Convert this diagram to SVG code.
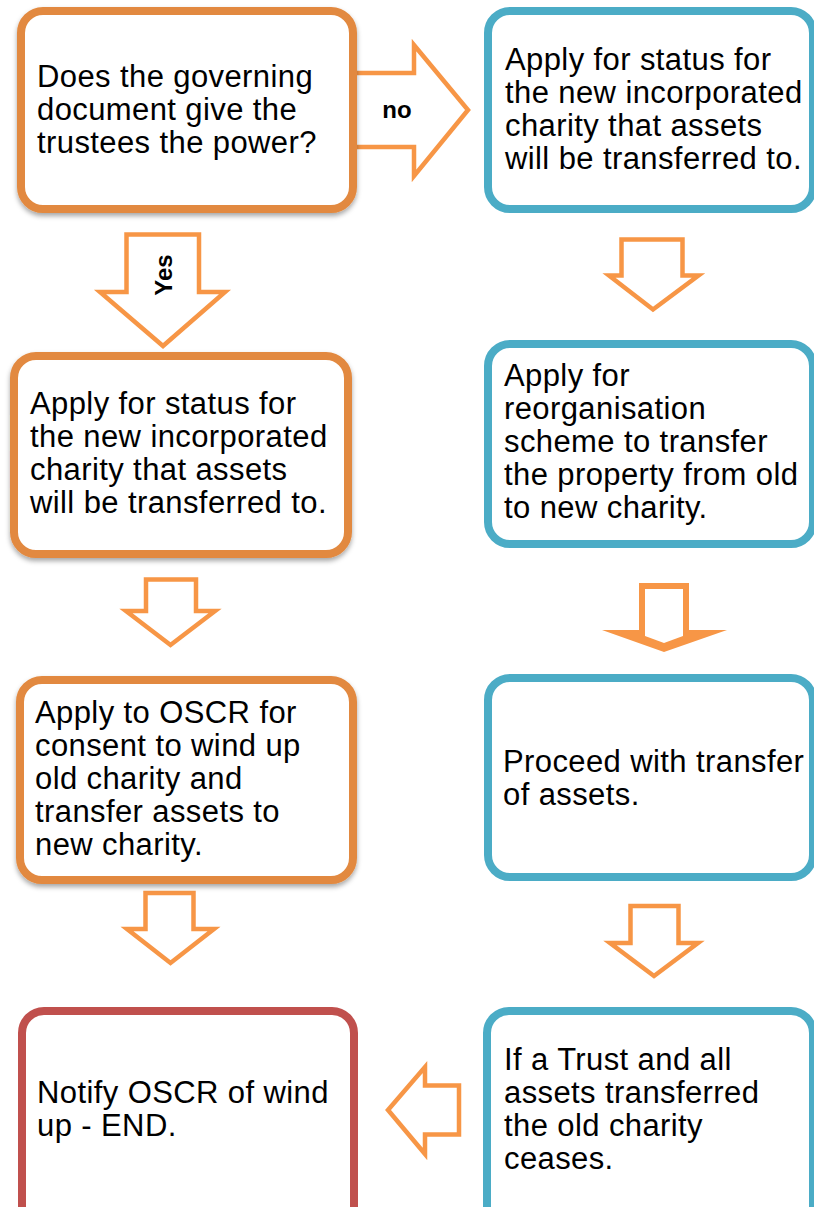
<svg xmlns="http://www.w3.org/2000/svg" width="814" height="1207" viewBox="0 0 814 1207">
<defs>
<filter id="sh" x="-10%" y="-10%" width="120%" height="125%">
<feDropShadow dx="0" dy="3" stdDeviation="2.5" flood-color="#000" flood-opacity="0.35"/>
</filter>
</defs>
<style>
.box{fill:#fff;stroke-width:8}
.or{stroke:#E2893F;filter:url(#sh)}
.bl{stroke:#4BACC6}
.rd{stroke:#C0504D}
.arr{fill:#fff;stroke:#F79646;stroke-width:4.5;stroke-linejoin:miter}
text{font-family:"Liberation Sans",Arial,sans-serif;font-size:31px;letter-spacing:0.4px;fill:#000}
.lbl{font-weight:bold;font-size:24px;letter-spacing:0;text-anchor:middle}
</style>
<rect width="814" height="1207" fill="#fff"/>
<g id="connectors">
<polygon class="arr" points="353,73 414,73 414,45 468,110 414,176 414,147 353,147"/>
<polygon class="arr" points="126.5,234.5 199,234.5 199,292 225,292 163,346 100,292 126.5,292"/>
<polygon class="arr" points="146,579.5 196,579.5 196,611 215,611 170.5,645 126,611 146,611"/>
<polygon class="arr" points="145.5,893 193.5,893 193.5,929 214,929 170.5,963 127,929 145.5,929"/>
<polygon class="arr" points="621.5,239.5 682.5,239.5 682.5,275.5 698.5,275.5 653,309.5 609,275.5 621.5,275.5"/>
<polygon points="639,583 689,583 689,630 727,630 664,652 602,630 639,630" fill="#F79646"/>
<polygon points="645,589 683,589 683,636 664,643 645,636" fill="#fff"/>
<polygon class="arr" points="630.5,906 678.5,906 678.5,943 698,943 654,976 610,943 630.5,943"/>
<polygon class="arr" points="459,1085.5 425,1085.5 425,1067 388,1110 425,1154 425,1134.5 459,1134.5"/>
<text class="lbl" x="397" y="118">no</text>
<text class="lbl" transform="translate(171.5,275) rotate(-90)">Yes</text>
</g>
<g id="n1">
<rect class="box or" x="21" y="11" width="332" height="198" rx="22"/>
<text x="37" y="87">Does the governing</text>
<text x="37" y="120">document give the</text>
<text x="37" y="153">trustees the power?</text>
</g>
<g id="n2">
<rect class="box bl" x="488" y="11" width="325" height="198" rx="22"/>
<text x="505" y="70">Apply for status for</text>
<text x="505" y="103">the new incorporated</text>
<text x="505" y="136">charity that assets</text>
<text x="505" y="169">will be transferred to.</text>
</g>
<g id="n3">
<rect class="box or" x="14" y="356" width="334" height="198" rx="22"/>
<text x="30" y="414">Apply for status for</text>
<text x="30" y="447">the new incorporated</text>
<text x="30" y="480">charity that assets</text>
<text x="30" y="513">will be transferred to.</text>
</g>
<g id="n4">
<rect class="box bl" x="488" y="344" width="325" height="200" rx="22"/>
<text x="504" y="386">Apply for</text>
<text x="504" y="419">reorganisation</text>
<text x="504" y="452">scheme to transfer</text>
<text x="504" y="485">the property from old</text>
<text x="504" y="518">to new charity.</text>
</g>
<g id="n5">
<rect class="box or" x="20" y="680" width="333" height="200" rx="22"/>
<text x="35" y="723">Apply to OSCR for</text>
<text x="35" y="756">consent to wind up</text>
<text x="35" y="789">old charity and</text>
<text x="35" y="822">transfer assets to</text>
<text x="35" y="855">new charity.</text>
</g>
<g id="n6">
<rect class="box bl" x="488" y="678" width="325" height="199" rx="22"/>
<text x="503" y="771.5">Proceed with transfer</text>
<text x="503" y="804.5">of assets.</text>
</g>
<g id="n7">
<rect class="box rd" x="22" y="1011" width="332" height="230" rx="22"/>
<text x="37" y="1103">Notify OSCR of wind</text>
<text x="37" y="1136">up - END.</text>
</g>
<g id="n8">
<rect class="box bl" x="487" y="1011" width="326" height="230" rx="22"/>
<text x="504" y="1070">If a Trust and all</text>
<text x="504" y="1103">assets transferred</text>
<text x="504" y="1136">the old charity</text>
<text x="504" y="1169">ceases.</text>
</g>
</svg>
